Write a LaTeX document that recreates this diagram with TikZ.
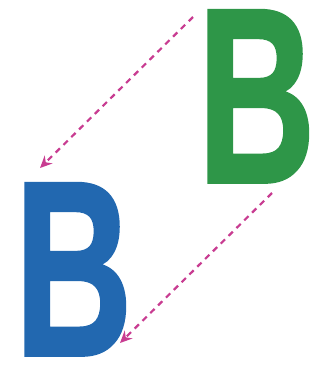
\documentclass[tikz,border=0pt]{standalone}
\usepackage{fontspec}
\setmainfont{Liberation Sans}
\newfontfamily\heavyfont[FakeBold=1.5]{Liberation Sans}
\usetikzlibrary{arrows.meta}
\definecolor{bgreen}{RGB}{46,150,72}
\definecolor{bblue}{RGB}{34,104,176}
\definecolor{arrowmag}{RGB}{200,60,145}
\tikzset{
  bigletter/.style={inner sep=0pt, anchor=base, font=\fontsize{249}{249}\heavyfont\bfseries, xscale=0.655},
  movearrow/.style={arrowmag, line width=2.2pt, dash pattern=on 6pt off 5pt, -{Stealth[length=12pt,width=11pt]}}
}
\begin{document}
\begin{tikzpicture}[x=1pt,y=-1pt]
\useasboundingbox (0,0) rectangle (320,378);
\node[bigletter, text=bgreen] (greenB) at (256.5,182) {B};
\node[bigletter, text=bblue] (blueB) at (73.5,355) {B};
\coordinate (s1) at (193,17);
\coordinate (e1) at (40,168);
\coordinate (s2) at (272,193);
\coordinate (e2) at (120,343);
\draw[movearrow] (s1) -- (e1);
\draw[movearrow] (s2) -- (e2);
\end{tikzpicture}
\end{document}
